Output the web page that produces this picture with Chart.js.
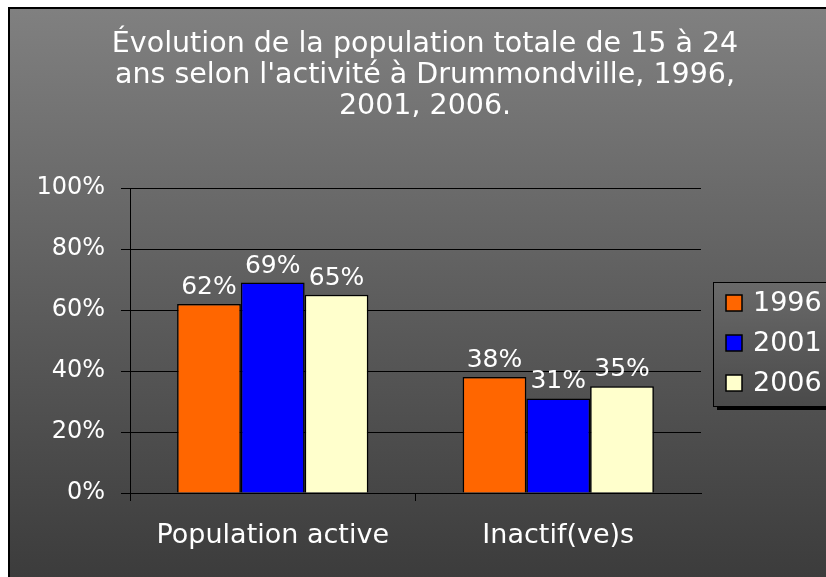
<!DOCTYPE html>
<html>
<head>
<meta charset="utf-8">
<script src="https://cdn.jsdelivr.net/npm/chart.js@4"></script>
<style>
  html, body { margin: 0; padding: 0; background: #fff; }
  #wrap { width: 826px; height: 577px; }
</style>
</head>
<body>
<div id="wrap"><canvas id="chart" width="826" height="577"></canvas></div>
<script>
// =========================
// DONNÉES
// =========================
const categories = ["Population active", "Inactif(ve)s"];
const years = ["1996", "2001", "2006"];
const values1996 = [62, 38];
const values2001 = [69, 31];
const values2006 = [65, 35];
const yTicks = [0, 20, 40, 60, 80, 100];
const titleLines = [
  "Évolution de la population totale de 15 à 24",
  "ans selon l'activité à Drummondville, 1996,",
  "2001, 2006.",
];

const seriesColors = ["#FF6600", "#0000FF", "#FFFFCC"];
const FONT = "'DejaVu Sans', sans-serif";

// fond dégradé + cadre noir + titre centré sur tout le cadre
const backgroundPlugin = {
  id: "bg",
  beforeDraw(chart) {
    const { ctx, width, height } = chart;
    ctx.save();
    ctx.fillStyle = "#fff";
    ctx.fillRect(0, 0, width, height);
    const g = ctx.createLinearGradient(0, 9, 0, height);
    g.addColorStop(0, "#808080");
    g.addColorStop(1, "#3c3c3c");
    ctx.fillStyle = g;
    ctx.fillRect(9, 9, width - 9, height - 9);
    ctx.strokeStyle = "#000";
    ctx.lineWidth = 2;
    ctx.beginPath();
    ctx.moveTo(9, height);
    ctx.lineTo(9, 8);
    ctx.lineTo(width, 8);
    ctx.stroke();

    ctx.fillStyle = "#fff";
    ctx.font = "28.5px " + FONT;
    ctx.textAlign = "center";
    ctx.textBaseline = "middle";
    titleLines.forEach((t, i) => ctx.fillText(t, 425, 45 + i * 31));
    ctx.restore();
  },
};

// étiquettes de valeurs au-dessus des barres
const valueLabels = {
  id: "valueLabels",
  afterDatasetsDraw(chart) {
    const { ctx } = chart;
    ctx.save();
    ctx.fillStyle = "#fff";
    ctx.font = "25px " + FONT;
    ctx.textAlign = "center";
    ctx.textBaseline = "alphabetic";
    chart.data.datasets.forEach((ds, i) => {
      chart.getDatasetMeta(i).data.forEach((bar, j) => {
        ctx.fillText(ds.data[j] + "%", bar.x, bar.y - 10);
      });
    });
    ctx.restore();
  },
};

// légende encadrée à droite
const boxLegend = {
  id: "boxLegend",
  afterDraw(chart) {
    const { ctx } = chart;
    const x = 713, y = 282, w = 120, h = 124;
    ctx.save();
    ctx.fillStyle = "#000";
    ctx.fillRect(x + 4, y + 4, w, h);
    const g = ctx.createLinearGradient(0, y, 0, y + h);
    g.addColorStop(0, "#6a6a6a");
    g.addColorStop(1, "#4a4a4a");
    ctx.fillStyle = g;
    ctx.fillRect(x, y, w, h);
    ctx.strokeStyle = "#000";
    ctx.lineWidth = 1;
    ctx.strokeRect(x + 0.5, y + 0.5, w, h);
    ctx.font = "27px " + FONT;
    ctx.textBaseline = "middle";
    chart.data.datasets.forEach((ds, i) => {
      const cy = 303 + i * 40;
      ctx.fillStyle = ds.backgroundColor;
      ctx.fillRect(726, cy - 8, 16, 16);
      ctx.lineWidth = 1.5;
      ctx.strokeRect(726, cy - 8, 16, 16);
      ctx.fillStyle = "#fff";
      ctx.fillText(ds.label, 753, cy + 1);
    });
    ctx.restore();
  },
};

const datasets = [values1996, values2001, values2006].map((vals, i) => ({
  label: years[i],
  data: vals,
  backgroundColor: seriesColors[i],
  borderColor: "#000",
  borderWidth: 1.5,
  categoryPercentage: 0.67,
  barPercentage: 1.0,
}));

new Chart(document.getElementById("chart"), {
  type: "bar",
  data: { labels: categories, datasets },
  plugins: [backgroundPlugin, valueLabels, boxLegend],
  options: {
    responsive: false,
    animation: false,
    layout: { padding: { left: 0, right: 125, top: 188, bottom: 0 } },
    plugins: {
      legend: { display: false },
      tooltip: { enabled: false },
      title: { display: false },
    },
    scales: {
      x: {
        afterFit: (s) => { s.height = 84; },
        border: { color: "#000", width: 1 },
        grid: {
          offset: true,
          drawOnChartArea: false,
          drawTicks: true,
          tickLength: 8,
          // pas de trait après la dernière catégorie
          color: (c) => (c.tick ? "#000" : "rgba(0,0,0,0)"),
        },
        ticks: { color: "#fff", font: { family: FONT, size: 27 }, padding: 19 },
      },
      y: {
        min: 0,
        max: 100,
        afterFit: (s) => { s.width = 130; },
        afterBuildTicks: (s) => { s.ticks = yTicks.map((v) => ({ value: v })); },
        border: { color: "#000", width: 1 },
        grid: { color: "#000", lineWidth: 1, tickLength: 9 },
        ticks: {
          color: "#fff",
          font: { family: FONT, size: 24 },
          padding: 16,
          callback: (v) => v + "%",
        },
      },
    },
  },
});
</script>
</body>
</html>
